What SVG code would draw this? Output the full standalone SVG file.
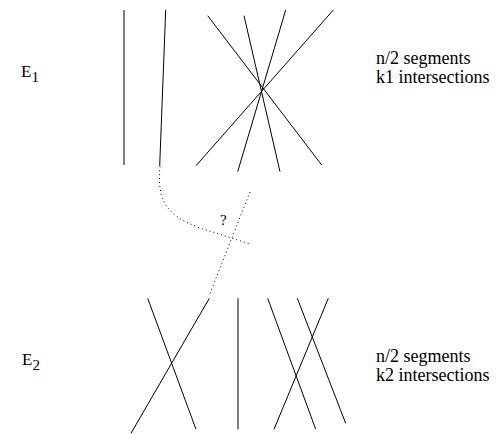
<svg xmlns="http://www.w3.org/2000/svg" width="498" height="434" viewBox="0 0 498 434">
<style>
.seg{stroke:#000;stroke-width:1;fill:none}
.dot{stroke:#000;stroke-width:1;fill:none;stroke-dasharray:1 3}
text{font-family:'Liberation Serif','DejaVu Serif',serif;fill:#000}
</style>
<rect width="498" height="434" fill="#fff"/>
<g id="E1">
<line class="seg" x1="124" y1="10" x2="124" y2="165"/>
<line class="seg" x1="165.7" y1="10" x2="159.7" y2="165.7"/>
<line class="seg" x1="207.7" y1="15.7" x2="321.7" y2="165"/>
<line class="seg" x1="244" y1="15.7" x2="280" y2="171.7"/>
<line class="seg" x1="285.7" y1="10" x2="237.7" y2="171.7"/>
<line class="seg" x1="333.3" y1="10" x2="196" y2="165.7"/>
<text font-family="Liberation Serif, serif" x="21" y="77" font-size="17">E<tspan font-size="15" dy="5">1</tspan></text>
<text font-family="Liberation Serif, serif" x="376" y="64" font-size="18">n/2 segments</text>
<text font-family="Liberation Serif, serif" x="376" y="83" font-size="18">k1 intersections</text>
</g>
<g id="E2">
<line class="seg" x1="147.7" y1="298.3" x2="196" y2="429.3"/>
<line class="seg" x1="209.3" y1="298.3" x2="131" y2="433.3"/>
<line class="seg" x1="238" y1="298.3" x2="238" y2="429.3"/>
<line class="seg" x1="267.7" y1="298.3" x2="315.7" y2="429.3"/>
<line class="seg" x1="297.3" y1="298.3" x2="345.7" y2="423.3"/>
<line class="seg" x1="328.3" y1="298.3" x2="274" y2="429.3"/>
<text font-family="Liberation Serif, serif" x="22" y="365" font-size="17">E<tspan font-size="15" dy="5">2</tspan></text>
<text font-family="Liberation Serif, serif" x="376" y="362" font-size="18">n/2 segments</text>
<text font-family="Liberation Serif, serif" x="376" y="381" font-size="18">k2 intersections</text>
</g>
<g id="connectors">
<path class="dot" d="M160,166 C157,200 165,215 200,228 L250,244"/>
<path class="dot" d="M250,192 L209,296"/>
<text font-family="Liberation Serif, serif" x="220" y="225" font-size="15">?</text>
</g>
</svg>
